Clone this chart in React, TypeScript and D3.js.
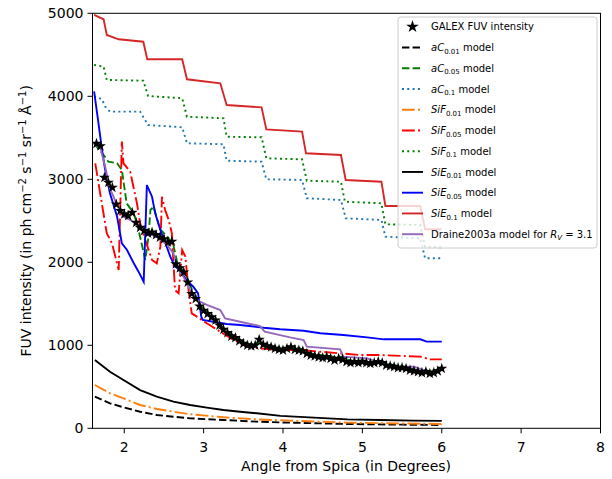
import React from "react";
import * as d3 from "d3";

// ---------- DATA ----------
const xTicks = [2, 3, 4, 5, 6, 7, 8];
const yTicks = [0, 1000, 2000, 3000, 4000, 5000];

// GALEX FUV intensity (angle, intensity)
const galexX = [1.65,1.7,1.75,1.8,1.85,1.9,1.95,2.0,2.05,2.1,2.15,2.2,2.25,2.3,2.35,2.4,2.45,2.5,2.55,2.6,2.65,2.7,2.75,2.8,2.85,2.9,2.95,3.0,3.05,3.1,3.15,3.2,3.25,3.3,3.35,3.4,3.45,3.5,3.55,3.6,3.65,3.7,3.75,3.8,3.85,3.9,3.95,4.0,4.05,4.1,4.15,4.2,4.25,4.3,4.35,4.4,4.45,4.5,4.55,4.6,4.65,4.7,4.75,4.8,4.85,4.9,4.95,5.0,5.05,5.1,5.15,5.2,5.25,5.3,5.35,5.4,5.45,5.5,5.55,5.6,5.65,5.7,5.75,5.8,5.85,5.9,5.95,6.0];
const galexY = [3430,3400,3020,2960,2900,2700,2620,2580,2560,2600,2480,2420,2380,2350,2360,2330,2300,2280,2240,2250,1980,1930,1880,1760,1620,1560,1470,1420,1380,1340,1300,1240,1190,1150,1110,1090,1050,1020,1000,990,1000,1070,1010,990,980,960,950,940,960,980,950,940,930,900,880,870,860,850,860,840,820,840,830,800,790,800,790,800,790,780,790,800,790,760,750,740,730,730,720,700,690,680,670,680,660,670,690,720];

// aC 0.01 model
const aC001X = [1.63,1.82,1.99,2.2,2.41,2.83,3.25,3.67,4.09,4.8,5.5,6.0];
const aC001Y = [381,301,253,200,160,120,100,80,68,52,44,40];

// aC 0.05 model
const aC005X = [1.62,1.74,1.8,1.91,1.97,2.03,2.12,2.18,2.265,2.305,2.33,2.37,2.45,2.55,2.62,2.68,2.75,2.82,2.9,3.0,3.1,3.2,3.3,3.4,3.5,3.6,3.7,3.8,3.9,4.0,4.1,4.2,4.3,4.4,4.5,4.6,4.7,4.8,4.9,5.0,5.1,5.2,5.3,5.4,5.5,5.6,5.7,5.8,5.9,6.0];
const aC005Y = [3430,3293,3212,3193,3112,2711,2590,2389,2028,2309,2630,2670,2400,2300,2200,1950,1900,1750,1560,1430,1340,1250,1160,1100,1040,1010,1030,1000,980,960,990,970,920,890,880,860,870,830,810,820,800,810,780,760,750,720,700,700,690,720];

// aC 0.1 model
const aC01X = [1.62,1.72,1.76,1.82,2.2,2.3,2.73,2.79,3.25,3.29,3.73,3.79,4.24,4.3,4.73,4.79,5.24,5.29,5.73,5.79,6.0];
const aC01Y = [4000,3964,3875,3815,3815,3654,3627,3434,3422,3224,3212,3000,2992,2771,2751,2530,2510,2309,2289,2048,2048];

// SiF 0.01 model
const siF001X = [1.63,1.82,1.99,2.2,2.41,2.62,2.83,3.25,3.67,4.09,4.81,5.5,6.0];
const siF001Y = [522,422,361,281,233,200,169,133,108,92,68,58,52];

// SiF 0.05 model
const siF005X = [1.635,1.7,1.78,1.845,1.93,1.97,1.99,2.075,2.16,2.2,2.265,2.35,2.41,2.455,2.475,2.515,2.56,2.6,2.62,2.64,2.685,2.73,2.77,2.79,2.81,2.85,2.915,3.04,3.21,3.38,3.545,3.71,3.965,4.215,4.47,4.72,4.97,5.22,5.73,5.85,6.0];
const siF005Y = [3193,2811,2349,2229,1907,3454,3193,3092,2711,2470,2269,2028,1988,2188,2790,2630,2510,2349,1988,1666,1626,2148,2068,1867,1666,1385,1345,1265,1164,1064,983,963,943,943,923,903,883,883,863,831,831];

// SiF 0.1 model
const siF01X = [1.62,1.74,1.78,2.24,2.3,2.73,2.79,3.25,3.29,3.73,3.79,4.24,4.3,4.73,4.78,5.24,5.29,5.73,5.79,6.0];
const siF01Y = [4378,4357,4197,4188,4004,3976,3754,3735,3513,3506,3253,3241,2983,2971,2730,2711,2458,2450,2188,2181];

// SiE 0.01 model
const siE001X = [1.63,1.82,1.99,2.2,2.41,2.62,2.83,3.04,3.25,3.46,3.67,3.97,4.39,4.81,5.22,5.64,6.0];
const siE001Y = [823,682,582,461,381,321,281,249,221,200,181,150,128,108,100,93,90];

// SiE 0.05 model
const siE005X = [1.62,1.67,1.72,1.76,1.82,1.91,1.97,2.035,2.12,2.18,2.245,2.285,2.35,2.39,2.455,2.52,2.58,2.64,2.7,2.78,2.87,2.93,2.95,2.97,2.99,3.12,3.29,3.46,3.755,3.965,4.26,4.47,4.76,5.06,5.27,5.73,5.81,6.0];
const siE005Y = [4060,3714,3353,3112,2831,2549,2229,2148,1988,1887,1766,2931,2790,2590,2389,2229,2068,1947,1907,1787,1706,1626,1486,1345,1305,1284,1257,1245,1212,1193,1176,1145,1124,1096,1072,1072,1044,1044];

// SiE 0.1 model
const siE01X = [1.62,1.74,1.78,1.93,2.24,2.29,2.73,2.79,3.21,3.29,3.73,3.79,4.24,4.29,4.73,4.79,5.24,5.29,5.73,5.79,6.0];
const siE01Y = [4980,4928,4739,4687,4658,4446,4446,4205,4157,3895,3867,3602,3575,3313,3293,2992,2971,2678,2678,2398,2398];

// Draine 2003a model for R_V = 3.1
const draineX = [1.62,1.7,1.76,1.82,1.91,1.99,2.075,2.2,2.285,2.41,2.54,2.62,2.685,2.745,2.83,2.915,3.04,3.21,3.27,3.46,3.71,3.77,4.09,4.26,4.3,4.72,4.76,5.06,5.31,5.44,5.65,5.77,5.9,6.0];
const draineY = [3434,3373,3152,2891,2690,2549,2510,2429,2349,2309,2209,2108,1907,1827,1666,1546,1486,1425,1325,1284,1232,1164,1096,1064,983,952,863,843,763,742,742,702,670,702];

// ---------- LAYOUT ----------
const W = 612, H = 479;
const L = 92.5, R = 600.5, T = 13.3, B = 428.3;

const DASHED = "7.4 3.2";
const DOTTED = "2 3.3";
const DASHDOT = "12.8 3.2 2 3.2";

type Series = { xs: number[]; ys: number[]; color: string; dash?: string; label: React.ReactNode };

const sub = (base: string, s: string, tail: string, italicBase = true) => (
  <>
    <tspan fontStyle={italicBase ? "italic" : "normal"}>{base}</tspan>
    <tspan fontSize={7} dy={2.5}>{s}</tspan>
    <tspan dy={-2.5}>{tail}</tspan>
  </>
);

export default function App() {
  const x = d3.scaleLinear().domain([1.6, 8]).range([L, R]);
  const y = d3.scaleLinear().domain([0, 5000]).range([B, T]);
  const line = d3.line<[number, number]>().x((d) => x(d[0])).y((d) => y(d[1]));
  const zip = (a: number[], b: number[]) => a.map((v, i) => [v, b[i]] as [number, number]);

  const series: Series[] = [
    { xs: aC001X, ys: aC001Y, color: "#000000", dash: DASHED, label: sub("aC", "0.01", " model") },
    { xs: aC005X, ys: aC005Y, color: "#008000", dash: DASHED, label: sub("aC", "0.05", " model") },
    { xs: aC01X, ys: aC01Y, color: "#1f77b4", dash: DOTTED, label: sub("aC", "0.1", " model") },
    { xs: siF001X, ys: siF001Y, color: "#ff7f0e", dash: DASHDOT, label: sub("SiF", "0.01", " model") },
    { xs: siF005X, ys: siF005Y, color: "#ff0000", dash: DASHDOT, label: sub("SiF", "0.05", " model") },
    { xs: siF01X, ys: siF01Y, color: "#008000", dash: DOTTED, label: sub("SiF", "0.1", " model") },
    { xs: siE001X, ys: siE001Y, color: "#000000", label: sub("SiE", "0.01", " model") },
    { xs: siE005X, ys: siE005Y, color: "#0000ff", label: sub("SiE", "0.05", " model") },
    { xs: siE01X, ys: siE01Y, color: "#d62728", label: sub("SiE", "0.1", " model") },
    {
      xs: draineX, ys: draineY, color: "#9467bd",
      label: (
        <>
          <tspan>Draine2003a model for </tspan>
          <tspan fontStyle="italic">R</tspan>
          <tspan fontSize={7} fontStyle="italic" dy={2.5}>V</tspan>
          <tspan dy={-2.5}> = 3.1</tspan>
        </>
      ),
    },
  ];

  const star = d3.symbol().type(d3.symbolStar).size(38)() as string;
  const legStar = d3.symbol().type(d3.symbolStar).size(50)() as string;
  const galex = zip(galexX, galexY);

  const legX = 398, legY = 17, legW = 199, legH = 231;
  const rowY = (i: number) => 26.7 + i * 20.75;

  const font = "DejaVu Sans, sans-serif";

  return (
    <svg width={W} height={H} style={{ position: "absolute", left: 0, top: 0, background: "#fff" }} fontFamily={font}>
      <defs>
        <clipPath id="plotclip">
          <rect x={L} y={T} width={R - L} height={B - T} />
        </clipPath>
      </defs>
      <rect x={0} y={0} width={W} height={H} fill="#fff" />

      <g clipPath="url(#plotclip)">
        {series.map((s, i) => (
          <path key={i} d={line(zip(s.xs, s.ys)) || ""} fill="none" stroke={s.color} strokeWidth={1.9} strokeDasharray={s.dash} />
        ))}
        {galex.map((d, i) => (
          <path key={"g" + i} d={star} transform={`translate(${x(d[0])},${y(d[1])})`} fill="#000" />
        ))}
      </g>

      {/* spines */}
      <rect x={L} y={T} width={R - L} height={B - T} fill="none" stroke="#000" strokeWidth={1} />

      {/* x ticks */}
      {xTicks.map((t) => (
        <g key={"x" + t}>
          <line x1={x(t)} x2={x(t)} y1={B} y2={B + 5} stroke="#000" strokeWidth={1} />
          <text x={x(t)} y={451.5} textAnchor="middle" fontSize={14} fill="#000">{t}</text>
        </g>
      ))}
      {/* y ticks */}
      {yTicks.map((t) => (
        <g key={"y" + t}>
          <line x1={L - 5} x2={L} y1={y(t)} y2={y(t)} stroke="#000" strokeWidth={1} />
          <text x={L - 9} y={y(t)} dy="0.36em" textAnchor="end" fontSize={14} fill="#000">{t}</text>
        </g>
      ))}

      <text x={(L + R) / 2 - 0.5} y={471} textAnchor="middle" fontSize={14} fill="#000">Angle from Spica (in Degrees)</text>
      <text transform={`translate(31,${(T + B) / 2}) rotate(-90)`} textAnchor="middle" fontSize={14} fill="#000">
        FUV intensity (in ph cm<tspan fontSize={10} dy={-5}>−2</tspan>
        <tspan dy={5}> s</tspan><tspan fontSize={10} dy={-5}>−1</tspan>
        <tspan dy={5}> sr</tspan><tspan fontSize={10} dy={-5}>−1</tspan>
        <tspan dy={5}> Å</tspan><tspan fontSize={10} dy={-5}>−1</tspan>
        <tspan dy={5}>)</tspan>
      </text>

      {/* legend */}
      <rect x={legX} y={legY} width={legW} height={legH} rx={3} fill="#fff" fillOpacity={0.8} stroke="#cccccc" strokeWidth={1} />
      <path d={legStar} transform={`translate(412.5,${rowY(0)})`} fill="#000" />
      <text x={431} y={rowY(0)} dy="0.36em" fontSize={10} fill="#000">GALEX FUV intensity</text>
      {series.map((s, i) => (
        <g key={"l" + i}>
          <line x1={402} x2={423} y1={rowY(i + 1)} y2={rowY(i + 1)} stroke={s.color} strokeWidth={1.9} strokeDasharray={s.dash} />
          <text x={431} y={rowY(i + 1)} dy="0.36em" fontSize={10} fill="#000">{s.label}</text>
        </g>
      ))}
    </svg>
  );
}
